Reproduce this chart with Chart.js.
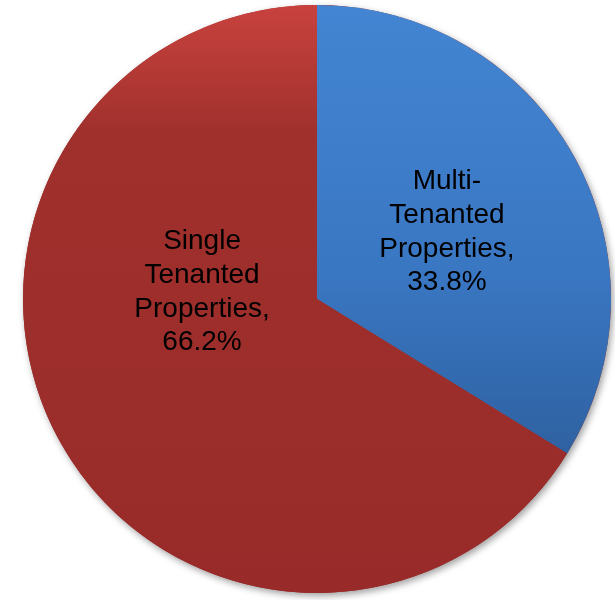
<!DOCTYPE html>
<html>
<head>
<meta charset="utf-8">
<script src="https://cdn.jsdelivr.net/npm/chart.js@4"></script>
<style>
  html, body { margin: 0; padding: 0; background: #fff; }
  #wrap { width: 615px; height: 600px; }
</style>
</head>
<body>
<div id="wrap"><canvas id="pieChart"></canvas></div>
<script>
const categorias = ["Multi-Tenanted Properties", "Single Tenanted Properties"];
const porcentajes = [33.8, 66.2];
const etiquetas = [
  ["Multi-", "Tenanted", "Properties,", "33.8%"],
  ["Single", "Tenanted", "Properties,", "66.2%"]
];
// where each label sits, as a fraction of the radius from the centre
const posEtiquetas = [[0.442, -0.228], [-0.391, -0.024]];

const colores = [
  [[0, "#4385d2"], [0.45, "#3a77c3"], [0.8, "#2d5f9d"], [1, "#2a5994"]],
  [[0, "#c8423e"], [0.22, "#a0302c"], [1, "#982b29"]]
];

function gradiente(ctx) {
  const chart = ctx.chart;
  const area = chart.chartArea;
  if (!area) return colores[ctx.dataIndex][0][1];
  const g = chart.ctx.createLinearGradient(0, area.top, 0, area.bottom);
  colores[ctx.dataIndex].forEach(s => g.addColorStop(s[0], s[1]));
  return g;
}

const sombra = {
  id: "sombra",
  beforeDatasetsDraw(chart) {
    const arc = chart.getDatasetMeta(0).data[0];
    if (!arc) return;
    const c = chart.ctx;
    c.save();
    c.shadowColor = "rgba(0,0,0,0.38)";
    c.shadowBlur = 7;
    c.shadowOffsetX = 2;
    c.shadowOffsetY = 3;
    c.fillStyle = "#982b29";
    c.beginPath();
    c.arc(arc.x, arc.y, arc.outerRadius, 0, Math.PI * 2);
    c.fill();
    c.restore();
  }
};

const textos = {
  id: "textos",
  afterDatasetsDraw(chart) {
    const meta = chart.getDatasetMeta(0);
    const c = chart.ctx;
    c.save();
    c.fillStyle = "#000";
    c.font = "28px 'Liberation Sans', Arial, sans-serif";
    c.textAlign = "center";
    c.textBaseline = "middle";
    meta.data.forEach((arc, i) => {
      const r = arc.outerRadius;
      const x = arc.x + posEtiquetas[i][0] * r;
      const y = arc.y + posEtiquetas[i][1] * r;
      const lineas = etiquetas[i];
      const alto = 33.7;
      lineas.forEach((t, j) => {
        c.fillText(t, x, y + (j - (lineas.length - 1) / 2) * alto);
      });
    });
    c.restore();
  }
};

new Chart(document.getElementById("pieChart"), {
  type: "pie",
  data: {
    labels: categorias,
    datasets: [{
      data: porcentajes,
      backgroundColor: gradiente,
      borderWidth: 0
    }]
  },
  options: {
    responsive: true,
    maintainAspectRatio: false,
    animation: false,
    layout: { padding: { left: 23, right: 4, top: 5, bottom: 7 } },
    plugins: {
      legend: { display: false },
      tooltip: { enabled: false }
    }
  },
  plugins: [sombra, textos]
});
</script>
</body>
</html>
